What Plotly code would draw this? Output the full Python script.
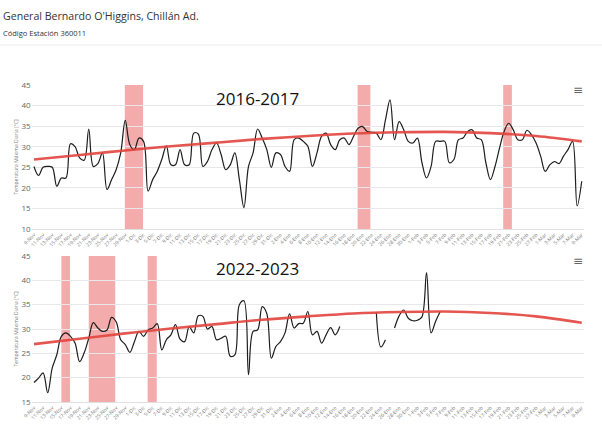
import datetime as dt
import plotly.graph_objects as go

# ---------------- data ----------------
days = list(range(121))  # 9-Nov .. 9-Mar

temp_2016 = [25.2, 23.0, 25.0, 25.2, 25.0, 20.4, 22.4, 22.4, 30.7, 30.0,
             27.3, 26.7, 34.3, 25.2, 25.9, 28.5, 19.6, 22.0, 24.4, 28.5,
             36.4, 30.5, 29.3, 32.1, 31.3, 19.2, 22.0, 24.0, 26.9, 30.2,
             25.6, 25.6, 29.3, 25.6, 25.6, 33.3, 33.1, 25.2, 26.4, 29.3,
             30.9, 28.1, 24.4, 25.6, 28.5, 22.0, 15.2, 25.2, 28.5, 34.3,
             32.1, 29.3, 25.0, 28.5, 28.1, 25.2, 24.0, 31.7, 32.1, 31.3,
             30.1, 25.2, 28.5, 32.5, 33.3, 30.5, 29.3, 31.7, 32.1, 30.5,
             32.5, 34.5, 34.9, 33.7, 33.5, 33.3, 31.7, 36.5, 41.4, 31.7,
             36.1, 34.1, 31.3, 30.9, 32.1, 26.1, 22.4, 25.2, 31.3, 31.3,
             31.3, 26.1, 26.9, 31.7, 32.1, 33.7, 34.1, 32.1, 31.7, 26.1,
             22.0, 25.2, 29.7, 33.7, 35.7, 34.1, 31.7, 31.7, 34.0, 32.9,
             30.9, 27.7, 24.0, 25.6, 26.4, 25.9, 27.7, 29.3, 31.3, 15.6,
             21.6]

N = None
temp_2022 = [19.0, 19.9, 21.0, 16.9, 22.0, 24.7, 28.5, 29.2, 28.5, 27.1,
             23.3, 25.1, 28.1, 31.3, 30.2, 29.5, 29.8, 32.4, 31.5, 27.8,
             26.8, 25.2, 27.4, 29.5, 28.5, 29.8, 30.2, 31.1, 25.7, 27.8,
             28.8, 30.9, 27.9, 27.4, 30.5, 29.2, 32.7, 32.6, 30.0, 30.5,
             27.8, 28.1, 28.5, 24.4, 24.7, 35.0, 35.8, 20.6, 29.5, 29.8,
             34.6, 33.2, 24.0, 26.4, 27.4, 29.2, 33.1, 30.2, 31.1, 31.2,
             33.6, 28.8, 29.5, 27.1, 28.8, 30.3, 28.8, 30.5, N, N,
             N, N, N, N, N, 33.4, 26.3, 27.8, N, 30.2,
             32.7, 33.9, 32.2, 31.7, 31.8, 32.5, 41.6, 29.2, 31.6, 33.6] + [N] * 31

trend_days = [0, 10, 20, 30, 40, 50, 60, 70, 80, 90, 100, 110, 120]
trend_vals = [26.9, 28.0, 29.1, 30.1, 31.0, 31.9, 32.6, 33.2, 33.5, 33.6, 33.3, 32.6, 31.3]

bands_2016 = [(19.9, 23.9), (70.9, 73.7), (102.8, 104.7)]
bands_2022 = [(6.0, 7.9), (12.0, 17.8), (24.9, 26.9)]

MESES = {11: "Nov", 12: "Dic", 1: "Ene", 2: "Feb", 3: "Mar"}
start = dt.date(2016, 11, 9)
tick_vals = list(range(0, 121, 2))
tick_labels = []
for d in tick_vals:
    day = start + dt.timedelta(days=d)
    tick_labels.append(f"{day.day}-{MESES[day.month]}")

# ---------------- figure ----------------
W, H = 602, 424
FONT = "Open Sans"
x_dom = [31.7 / W, 584 / W]
top_dom = [1 - 229 / H, 1 - 85 / H]
bot_dom = [1 - 402 / H, 1 - 256 / H]

fig = go.Figure()

for axis_idx, temps in ((1, temp_2016), (2, temp_2022)):
    xa = "x" if axis_idx == 1 else "x2"
    ya = "y" if axis_idx == 1 else "y2"
    fig.add_trace(go.Scatter(x=days, y=temps, mode="lines", xaxis=xa, yaxis=ya,
                             line=dict(color="#1e1e1e", width=1.2, shape="spline", smoothing=1.0),
                             connectgaps=False, hoverinfo="skip", showlegend=False))
    fig.add_trace(go.Scatter(x=trend_days, y=trend_vals, mode="lines", xaxis=xa, yaxis=ya,
                             line=dict(color="#e2443d", width=2.6, shape="spline", smoothing=1.0),
                             opacity=0.9, hoverinfo="skip", showlegend=False))

shapes = []
for (a, b) in bands_2016:
    shapes.append(dict(type="rect", xref="x", yref="y domain", x0=a, x1=b, y0=0, y1=1,
                       fillcolor="#f4abab", line=dict(width=0), layer="below"))
for (a, b) in bands_2022:
    shapes.append(dict(type="rect", xref="x2", yref="y2 domain", x0=a, x1=b, y0=0, y1=1,
                       fillcolor="#f4abab", line=dict(width=0), layer="below"))
shapes.append(dict(type="line", xref="paper", yref="paper", x0=0, x1=1,
                   y0=1 - 45 / H, y1=1 - 45 / H, line=dict(color="#ececec", width=1)))

xcommon = dict(range=[-0.5, 120.5], domain=x_dom, tickmode="array", tickvals=tick_vals,
               ticktext=tick_labels, tickangle=-45, tickfont=dict(size=5, color="#777", family=FONT),
               showgrid=False, zeroline=False, showline=True, linecolor="#e0e0e0", linewidth=1,
               ticks="", fixedrange=True, automargin=False)
ycommon = dict(showgrid=True, gridcolor="#e8e8e8", gridwidth=1, zeroline=False, dtick=5,
               tickfont=dict(size=8, color="#666", family=FONT), ticks="", fixedrange=True,
               automargin=False,
               title=dict(text="Temperatura Máxima Diaria [°C]", font=dict(size=5, color="#777", family=FONT),
                          standoff=2))

fig.update_layout(
    width=W, height=H, margin=dict(l=0, r=0, t=0, b=0, autoexpand=False),
    paper_bgcolor="white", plot_bgcolor="white",
    font=dict(family=FONT),
    xaxis=dict(xcommon, anchor="y"),
    yaxis=dict(ycommon, domain=top_dom, range=[10, 45], anchor="x", tickvals=[10, 15, 20, 25, 30, 35, 40, 45]),
    xaxis2=dict(xcommon, anchor="y2"),
    yaxis2=dict(ycommon, domain=bot_dom, range=[15, 45], anchor="x2", tickvals=[15, 20, 25, 30, 35, 40, 45]),
    shapes=shapes,
    annotations=[
        dict(text="General Bernardo O'Higgins, Chillán Ad.", xref="paper", yref="paper",
             x=1 / W, y=1 - 16 / H, xanchor="left", yanchor="middle", showarrow=False,
             font=dict(size=10.6, color="#333", family=FONT)),
        dict(text="Código Estación 360011", xref="paper", yref="paper",
             x=1 / W, y=1 - 33 / H, xanchor="left", yanchor="middle", showarrow=False,
             font=dict(size=7.5, color="#333", family=FONT)),
        dict(text="2016-2017", xref="paper", yref="paper", x=257 / W, y=1 - 98 / H,
             xanchor="center", yanchor="middle", showarrow=False,
             font=dict(size=17, color="#111", family=FONT)),
        dict(text="2022-2023", xref="paper", yref="paper", x=257 / W, y=1 - 268 / H,
             xanchor="center", yanchor="middle", showarrow=False,
             font=dict(size=17, color="#111", family=FONT)),
        dict(text="≡", xref="paper", yref="paper", x=578 / W, y=1 - 90 / H,
             xanchor="center", yanchor="middle", showarrow=False,
             font=dict(size=12, color="#666", family="DejaVu Sans")),
        dict(text="≡", xref="paper", yref="paper", x=578 / W, y=1 - 261 / H,
             xanchor="center", yanchor="middle", showarrow=False,
             font=dict(size=12, color="#666", family="DejaVu Sans")),
    ],
)

fig.write_html("out.html", config={"displayModeBar": False},
               post_script="document.body.style.margin='0px';document.body.style.overflow='hidden';")
